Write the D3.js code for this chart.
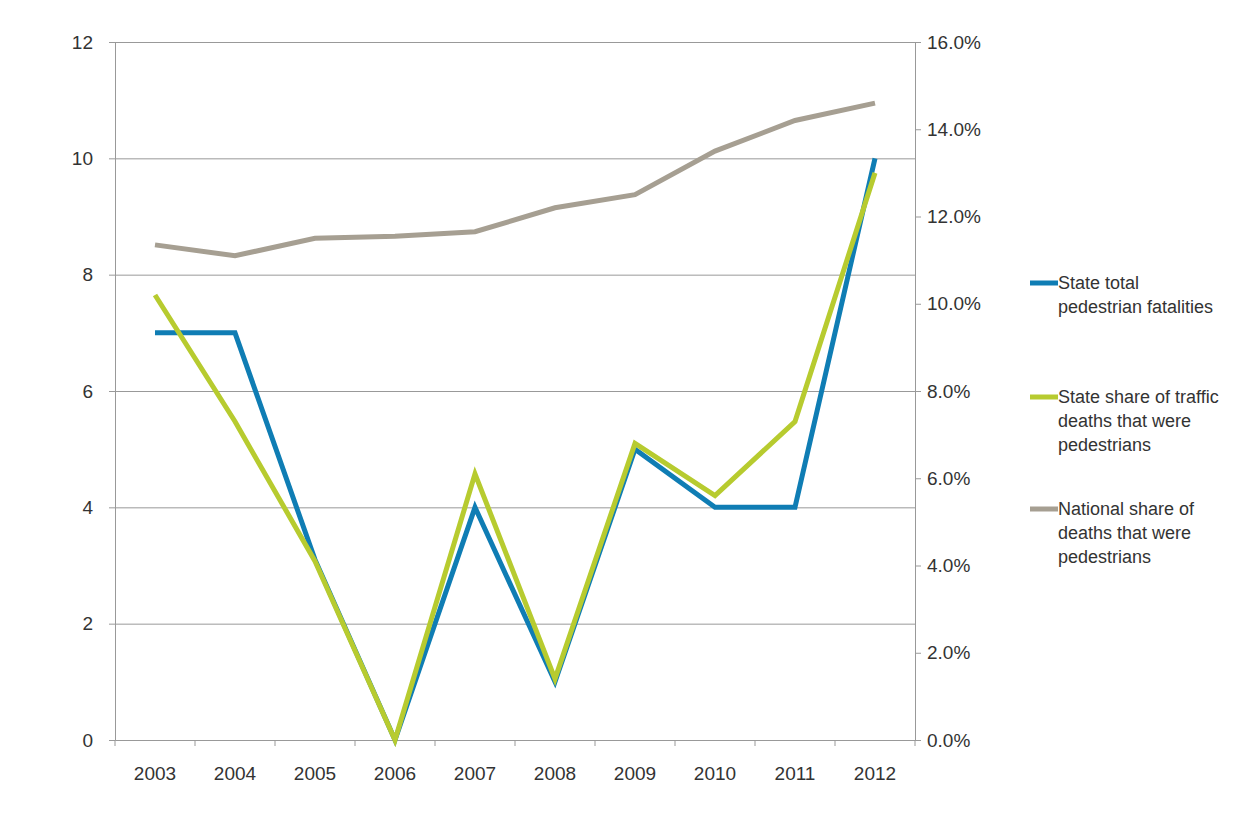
<!DOCTYPE html>
<html><head><meta charset="utf-8">
<script src="https://cdn.jsdelivr.net/npm/d3@7"></script>
<style>
body{margin:0;background:#fff;}
svg{font-family:"Liberation Sans",Arial,sans-serif;}
.axis text{font-size:19px;fill:#333;}
.axis path,.axis line{stroke:#999;}
</style></head><body>
<svg id="chart" width="1253" height="821"></svg>
<script>
const years = ['2003','2004','2005','2006','2007','2008','2009','2010','2011','2012'];
const stateTotal = [7,7,3.1,0,4,1,5,4,4,10];
const stateShare = [10.2,7.3,4.1,0,6.1,1.4,6.8,5.6,7.3,13.0];
const nationalShare = [11.35,11.1,11.5,11.55,11.65,12.2,12.5,13.5,14.2,14.6];
const leftTicks = [0,2,4,6,8,10,12];
const rightTicks = [0,2,4,6,8,10,12,14,16];
const legendItems = [
  {lines:['State total','pedestrian fatalities'], color:'#0f7db4'},
  {lines:['State share of traffic','deaths that were','pedestrians'], color:'#b7cb2f'},
  {lines:['National share of','deaths that were','pedestrians'], color:'#a69f92'}
];

const svg = d3.select('#chart');
const mLeft = 115, mRight = 915, mTop = 42, mBottom = 740;

const x = d3.scaleBand().domain(years).range([mLeft, mRight]);
const yL = d3.scaleLinear().domain([0,12]).range([mBottom, mTop]);
const yR = d3.scaleLinear().domain([0,16]).range([mBottom, mTop]);

// grid
svg.append('g').attr('transform', `translate(${mLeft},0)`)
  .call(d3.axisLeft(yL).tickValues(leftTicks.slice(1)).tickSize(-(mRight-mLeft)).tickFormat(''))
  .call(g => g.select('.domain').remove())
  .selectAll('line').attr('stroke', '#999');

// left axis
svg.append('g').attr('class','axis').attr('transform', `translate(${mLeft},0)`)
  .call(d3.axisLeft(yL).tickValues(leftTicks).tickSize(6).tickPadding(16).tickFormat(d3.format('d')));

// right axis
svg.append('g').attr('class','axis').attr('transform', `translate(${mRight},0)`)
  .call(d3.axisRight(yR).tickValues(rightTicks).tickSize(6).tickPadding(6).tickFormat(d => d.toFixed(1) + '%'));

// bottom axis with ticks at band boundaries
const xa = svg.append('g').attr('class','axis').attr('transform', `translate(0,${mBottom})`)
  .call(d3.axisBottom(x).tickSize(0).tickPadding(27));
xa.selectAll('.bnd').data(years.concat(['end'])).enter().append('line')
  .attr('x1', (d,i) => mLeft + i*x.step()).attr('x2', (d,i) => mLeft + i*x.step())
  .attr('y1', 0).attr('y2', 6).attr('stroke', '#999');

const cx = d => x(d) + x.bandwidth()/2;
const series = [
  {vals: nationalShare, y: yR, color: legendItems[2].color},
  {vals: stateTotal, y: yL, color: legendItems[0].color},
  {vals: stateShare, y: yR, color: legendItems[1].color}
];
series.forEach(s => {
  svg.append('path')
    .datum(s.vals)
    .attr('fill','none').attr('stroke', s.color).attr('stroke-width', 5)
    .attr('d', d3.line().x((d,i) => cx(years[i])).y(d => s.y(d)));
});

// legend
const ly = [283, 397, 509];
legendItems.forEach((it, i) => {
  const g = svg.append('g').attr('transform', `translate(1030,${ly[i]})`);
  g.append('line').attr('x1',0).attr('x2',28).attr('y1',0).attr('y2',0)
    .attr('stroke', it.color).attr('stroke-width', 5);
  it.lines.forEach((t, j) => g.append('text').attr('x', 28).attr('y', 6 + j*24)
    .attr('font-size', 18).attr('fill', '#333').text(t));
});
</script>
</body></html>
